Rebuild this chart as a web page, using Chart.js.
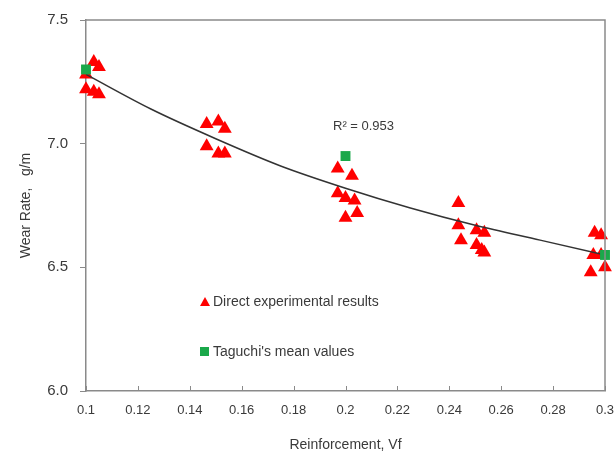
<!DOCTYPE html>
<html>
<head>
<meta charset="utf-8">
<script src="https://cdn.jsdelivr.net/npm/chart.js@4.4.1/dist/chart.umd.min.js"></script>
<style>
  html, body { margin: 0; padding: 0; background: #fff; }
  #wrap { width: 616px; height: 460px; }
</style>
</head>
<body>
<div id="wrap"><canvas id="wear-chart"></canvas></div>
<script>
// direct experimental results (red triangles)
const expX = [0.1, 0.103, 0.105, 0.1, 0.103, 0.105,
  0.1465, 0.151, 0.1535, 0.1465, 0.151, 0.1535,
  0.197, 0.2025, 0.197, 0.2, 0.2035, 0.2, 0.2045,
  0.2435, 0.2435, 0.2445, 0.2505, 0.2535, 0.2505, 0.2525, 0.2535,
  0.296, 0.2985, 0.2955, 0.2985, 0.2945, 0.3];
const expY = [7.28, 7.33, 7.31, 7.22, 7.21, 7.20,
  7.08, 7.09, 7.06, 6.99, 6.96, 6.96,
  6.90, 6.87, 6.80, 6.78, 6.77, 6.70, 6.72,
  6.76, 6.67, 6.61, 6.65, 6.64, 6.59, 6.57, 6.56,
  6.64, 6.63, 6.55, 6.55, 6.48, 6.50];

// Taguchi's mean values (green squares)
const meanX = [0.1, 0.2, 0.3];
const meanY = [7.30, 6.95, 6.55];

// trend line
const trendX = [0.1, 0.125, 0.15, 0.175, 0.2, 0.225, 0.25, 0.275, 0.3];
const trendY = [7.28, 7.14, 7.02, 6.91, 6.82, 6.74, 6.67, 6.61, 6.55];

const xTicks = [0.1, 0.12, 0.14, 0.16, 0.18, 0.2, 0.22, 0.24, 0.26, 0.28, 0.3];
const yTicks = [6.0, 6.5, 7.0, 7.5];

const rSquared = 'R\u00B2 = 0.953';
const legendLabels = ['Direct experimental results', "Taguchi's mean values"];

const toPoints = (xs, ys) => xs.map((x, i) => ({ x, y: ys[i] }));

const textColor = '#3a3a3a';
const axisColor = '#8a8a8a';
const family = 'Arial, "Liberation Sans", sans-serif';
const font = { family, size: 13 };

// box round the plot, inside ticks on x, R² note and the legend
const decorations = {
  id: 'decorations',
  afterDatasetsDraw(chart) {
    const { ctx, chartArea: a, scales } = chart;
    ctx.save();
    ctx.strokeStyle = axisColor;
    ctx.lineWidth = 1.5;
    ctx.beginPath();
    ctx.moveTo(a.left, a.top);
    ctx.lineTo(a.right, a.top);
    ctx.lineTo(a.right, a.bottom);
    ctx.stroke();
    ctx.lineWidth = 1;
    xTicks.forEach((t) => {
      const px = Math.round(scales.x.getPixelForValue(t)) + 0.5;
      ctx.beginPath();
      ctx.moveTo(px, a.bottom);
      ctx.lineTo(px, a.bottom - 5);
      ctx.stroke();
    });

    ctx.fillStyle = textColor;
    ctx.font = '13px ' + family;
    ctx.textBaseline = 'middle';
    ctx.fillText(rSquared, 333, 126);

    // legend
    ctx.fillStyle = '#ff0000';
    ctx.beginPath();
    ctx.moveTo(205, 297);
    ctx.lineTo(210, 306);
    ctx.lineTo(200, 306);
    ctx.closePath();
    ctx.fill();
    ctx.fillStyle = '#1aa84a';
    ctx.fillRect(200, 347, 9, 9);
    ctx.fillStyle = textColor;
    ctx.font = '14px ' + family;
    ctx.fillText(legendLabels[0], 213, 302);
    ctx.fillText(legendLabels[1], 213, 352);
    ctx.restore();
  },
};

new Chart(document.getElementById('wear-chart'), {
  type: 'scatter',
  data: {
    datasets: [
      {
        label: legendLabels[1],
        data: toPoints(meanX, meanY),
        pointStyle: 'rect',
        pointRadius: 7,
        pointHoverRadius: 7,
        backgroundColor: '#1aa84a',
        borderColor: '#1aa84a',
        borderWidth: 0,
        clip: false,
        order: 0,
      },
      {
        label: 'trend',
        data: toPoints(trendX, trendY),
        showLine: true,
        pointRadius: 0,
        borderColor: '#333333',
        borderWidth: 1.5,
        cubicInterpolationMode: 'monotone',
        clip: false,
        order: 1,
      },
      {
        label: legendLabels[0],
        data: toPoints(expX, expY),
        pointStyle: 'triangle',
        pointRadius: 8,
        pointHoverRadius: 8,
        backgroundColor: '#ff0000',
        borderColor: '#ff0000',
        borderWidth: 0,
        clip: false,
        order: 2,
      },
    ],
  },
  options: {
    responsive: true,
    maintainAspectRatio: false,
    animation: false,
    layout: { autoPadding: false, padding: { top: 20, right: 11, left: 0, bottom: 0 } },
    plugins: { legend: { display: false }, tooltip: { enabled: false } },
    scales: {
      x: {
        type: 'linear',
        min: 0.1,
        max: 0.3,
        afterBuildTicks: (scale) => { scale.ticks = xTicks.map((v) => ({ value: v })); },
        afterFit: (scale) => {
          scale.height = 69;
          scale.paddingLeft = 0;
          scale.paddingRight = 0;
        },
        ticks: {
          color: textColor,
          font,
          padding: 12,
          maxRotation: 0,
          autoSkip: false,
          callback: (v) => String(Math.round(v * 100) / 100),
        },
        grid: { display: true, drawOnChartArea: false, drawTicks: false, color: axisColor },
        border: { color: axisColor, width: 1.5 },
        title: {
          display: true,
          text: 'Reinforcement, Vf',
          color: textColor,
          font: { family, size: 14 },
          padding: { top: 0, bottom: 6 },
        },
      },
      y: {
        type: 'linear',
        min: 6,
        max: 7.5,
        afterBuildTicks: (scale) => { scale.ticks = yTicks.map((v) => ({ value: v })); },
        afterFit: (scale) => {
          scale.width = 86;
          scale.paddingTop = 0;
          scale.paddingBottom = 0;
        },
        ticks: {
          color: textColor,
          font: { family, size: 15 },
          padding: 12,
          callback: (v) => v.toFixed(1),
        },
        grid: { drawOnChartArea: false, drawTicks: true, tickLength: 6, color: axisColor },
        border: { color: axisColor, width: 1.5 },
        title: {
          display: true,
          text: 'Wear Rate,   g/m',
          color: textColor,
          font: { family, size: 14 },
          padding: { top: 18, bottom: 0 },
        },
      },
    },
  },
  plugins: [decorations],
});
</script>
</body>
</html>
